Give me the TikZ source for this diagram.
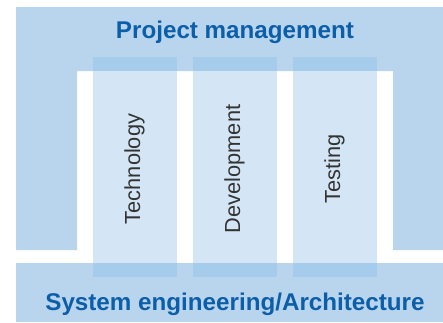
\documentclass[tikz,border=0pt]{standalone}
\usepackage{fontspec}
\setmainfont{Liberation Sans}
\definecolor{bandblue}{HTML}{B8D5ED}
\definecolor{collight}{HTML}{D4E6F5}
\definecolor{overlap}{HTML}{A6CCEC}
\definecolor{titleblue}{HTML}{0D5EA9}
\definecolor{coltext}{HTML}{333333}
\begin{document}
\begin{tikzpicture}[x=1pt,y=-1pt,
  band/.style={fill=bandblue,draw=none},
  column/.style={fill=collight,draw=none},
  ovl/.style={fill=overlap,draw=none},
  title/.style={font=\fontsize{24.2}{27}\selectfont\bfseries,text=titleblue,anchor=base,inner sep=0pt},
  coltitle/.style={font=\fontsize{21.8}{24}\selectfont,text=coltext,rotate=90,anchor=base,inner sep=0pt}]
\useasboundingbox (0,0) rectangle (443,322);
\fill[white] (0,0) rectangle (443,322);
% project management inverted U
\path[band] (16,7) -- (443,7) -- (443,250) -- (393,250) -- (393,71) -- (77,71) -- (77,250) -- (16,250) -- cycle;
% system engineering band
\path[band] (16,263) rectangle (443,322);
% columns
\foreach \x/\n in {93/techcol,193/devcol,293/testcol}{
  \path[column] (\x,57) rectangle (\x+84,277);
  \path[ovl] (\x,57) rectangle (\x+84,71);
  \path[ovl] (\x,263) rectangle (\x+84,277);
  \coordinate (\n) at (\x+47,169);
}
\node[title] (pm) at (235,38) {Project management};
\node[title] (se) at (235,310) {System engineering/Architecture};
\node[coltitle] (tech) at (techcol) {Technology};
\node[coltitle] (dev) at (devcol) {Development};
\node[coltitle] (test) at (testcol) {Testing};
\end{tikzpicture}
\end{document}
